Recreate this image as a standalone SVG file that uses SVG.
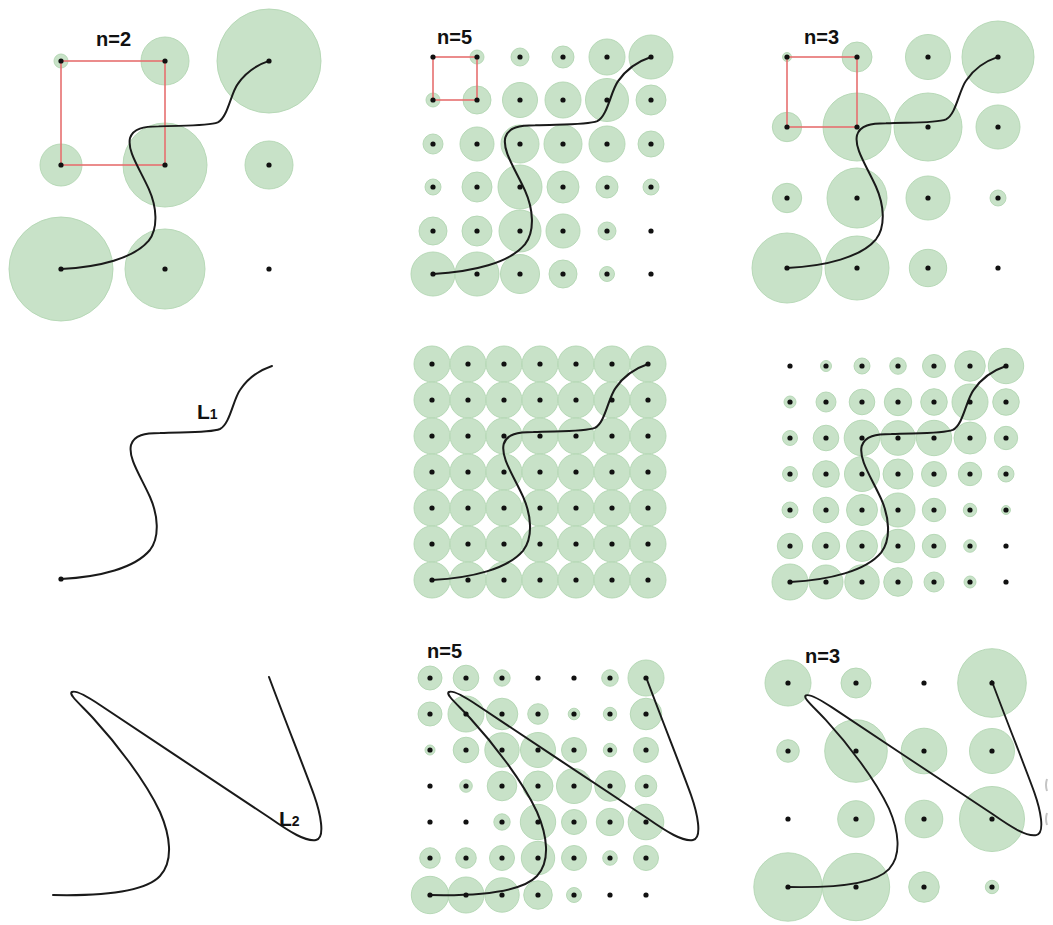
<svg xmlns="http://www.w3.org/2000/svg" xmlns:xlink="http://www.w3.org/1999/xlink" width="1053" height="925" viewBox="0 0 1053 925">
<style>
.bg{fill:#ffffff}
.g circle{fill:#c8e2c8;stroke:#b2d6b2;stroke-width:0.9}
.d circle{fill:#111111}
.sq{fill:none;stroke:#e67070;stroke-width:1.6}
.cv{fill:none;stroke:#1a1a1a;stroke-width:2;stroke-linecap:round;stroke-linejoin:round}
.lbl{font-family:"Liberation Sans",Arial,sans-serif;font-weight:bold;font-size:20px;fill:#111111}
.big{font-size:21px}
.sub{font-size:14px}
.art{fill:none;stroke:#c4c4c4;stroke-width:2}
</style>
<defs>
<path id="L1" class="cv" d="M61,579 C100,577 135,568 150,550 C160,537 158,515 150,497 C140,475 128,458 131,445 C134,435 145,433 160,433 C185,432 210,433 220,429 C230,424 233,400 240,390 C248,378 260,370 272,366"/>
<path id="L2" class="cv" d="M53,895 C100,896 145,892 160,876 C174,861 170,835 160,812 C145,780 115,742 93,718 C80,704 68,694 72,692 C76,690 88,697 100,705 C150,738 230,792 270,818 C290,832 306,842 316,840 C326,838 320,812 314,795 C305,770 285,720 269,677"/>
</defs>
<rect class="bg" x="0" y="0" width="1053" height="925"/>

<g id="panel-n2-L1">
<g class="g">
<circle cx="61" cy="61" r="7"/><circle cx="165" cy="61" r="24"/><circle cx="269" cy="61" r="52"/>
<circle cx="61" cy="165" r="21"/><circle cx="165" cy="165" r="42"/><circle cx="269" cy="165" r="24"/>
<circle cx="61" cy="269" r="52"/><circle cx="165" cy="269" r="40"/>
</g>
<rect class="sq" x="61" y="61" width="104" height="104"/>
<use xlink:href="#L1" transform="translate(61,269) scale(0.986,0.977) translate(-61,-579)"/>
<g class="d">
<circle cx="61" cy="61" r="2.6"/><circle cx="165" cy="61" r="2.6"/><circle cx="269" cy="61" r="2.6"/>
<circle cx="61" cy="165" r="2.6"/><circle cx="165" cy="165" r="2.6"/><circle cx="269" cy="165" r="2.6"/>
<circle cx="61" cy="269" r="2.6"/><circle cx="165" cy="269" r="2.6"/><circle cx="269" cy="269" r="2.6"/>
</g>
<text class="lbl" x="96" y="46">n=2</text>
</g>

<g id="panel-n5-L1">
<g class="g">
<circle cx="477" cy="57" r="7"/><circle cx="520" cy="57" r="9"/><circle cx="563" cy="57" r="11"/><circle cx="607" cy="57" r="18"/><circle cx="651" cy="57" r="22"/>
<circle cx="433" cy="100" r="7"/><circle cx="477" cy="100" r="14"/><circle cx="520" cy="100" r="17.5"/><circle cx="563" cy="100" r="18"/><circle cx="607" cy="100" r="21.5"/><circle cx="651" cy="100" r="15"/>
<circle cx="433" cy="144" r="10"/><circle cx="477" cy="144" r="17"/><circle cx="520" cy="144" r="19"/><circle cx="563" cy="144" r="19"/><circle cx="607" cy="144" r="18"/><circle cx="651" cy="144" r="13"/>
<circle cx="433" cy="187" r="8"/><circle cx="477" cy="187" r="15"/><circle cx="520" cy="187" r="22"/><circle cx="563" cy="187" r="16"/><circle cx="607" cy="187" r="11"/><circle cx="651" cy="187" r="8"/>
<circle cx="433" cy="231" r="14"/><circle cx="477" cy="231" r="15"/><circle cx="520" cy="231" r="21"/><circle cx="563" cy="231" r="17"/><circle cx="607" cy="231" r="9"/>
<circle cx="433" cy="274" r="22"/><circle cx="477" cy="274" r="22"/><circle cx="520" cy="274" r="19.5"/><circle cx="563" cy="274" r="14"/><circle cx="607" cy="274" r="7.5"/>
</g>
<rect class="sq" x="433" y="57" width="44" height="43"/>
<use xlink:href="#L1" transform="translate(433,274) scale(1.033,1.019) translate(-61,-579)"/>
<g class="d">
<circle cx="433" cy="57" r="2.6"/><circle cx="477" cy="57" r="2.6"/><circle cx="520" cy="57" r="2.6"/><circle cx="563" cy="57" r="2.6"/><circle cx="607" cy="57" r="2.6"/><circle cx="651" cy="57" r="2.6"/>
<circle cx="433" cy="100" r="2.6"/><circle cx="477" cy="100" r="2.6"/><circle cx="520" cy="100" r="2.6"/><circle cx="563" cy="100" r="2.6"/><circle cx="607" cy="100" r="2.6"/><circle cx="651" cy="100" r="2.6"/>
<circle cx="433" cy="144" r="2.6"/><circle cx="477" cy="144" r="2.6"/><circle cx="520" cy="144" r="2.6"/><circle cx="563" cy="144" r="2.6"/><circle cx="607" cy="144" r="2.6"/><circle cx="651" cy="144" r="2.6"/>
<circle cx="433" cy="187" r="2.6"/><circle cx="477" cy="187" r="2.6"/><circle cx="520" cy="187" r="2.6"/><circle cx="563" cy="187" r="2.6"/><circle cx="607" cy="187" r="2.6"/><circle cx="651" cy="187" r="2.6"/>
<circle cx="433" cy="231" r="2.6"/><circle cx="477" cy="231" r="2.6"/><circle cx="520" cy="231" r="2.6"/><circle cx="563" cy="231" r="2.6"/><circle cx="607" cy="231" r="2.6"/><circle cx="651" cy="231" r="2.6"/>
<circle cx="433" cy="274" r="2.6"/><circle cx="477" cy="274" r="2.6"/><circle cx="520" cy="274" r="2.6"/><circle cx="563" cy="274" r="2.6"/><circle cx="607" cy="274" r="2.6"/><circle cx="651" cy="274" r="2.6"/>
</g>
<text class="lbl" x="437" y="44">n=5</text>
</g>

<g id="panel-n3-L1">
<g class="g">
<circle cx="787" cy="57" r="4.5"/><circle cx="857" cy="57" r="15"/><circle cx="928" cy="57" r="22.5"/><circle cx="998" cy="57" r="36"/>
<circle cx="787" cy="127" r="14.7"/><circle cx="857" cy="127" r="34"/><circle cx="928" cy="127" r="34"/><circle cx="998" cy="127" r="22"/>
<circle cx="787" cy="198" r="14.7"/><circle cx="857" cy="198" r="30"/><circle cx="928" cy="198" r="22"/><circle cx="998" cy="198" r="8"/>
<circle cx="787" cy="268" r="35"/><circle cx="857" cy="268" r="32"/><circle cx="928" cy="268" r="18.7"/>
</g>
<rect class="sq" x="787" y="57" width="70" height="70"/>
<use xlink:href="#L1" transform="translate(787,268) scale(1,0.991) translate(-61,-579)"/>
<g class="d">
<circle cx="787" cy="57" r="2.6"/><circle cx="857" cy="57" r="2.6"/><circle cx="928" cy="57" r="2.6"/><circle cx="998" cy="57" r="2.6"/>
<circle cx="787" cy="127" r="2.6"/><circle cx="857" cy="127" r="2.6"/><circle cx="928" cy="127" r="2.6"/><circle cx="998" cy="127" r="2.6"/>
<circle cx="787" cy="198" r="2.6"/><circle cx="857" cy="198" r="2.6"/><circle cx="928" cy="198" r="2.6"/><circle cx="998" cy="198" r="2.6"/>
<circle cx="787" cy="268" r="2.6"/><circle cx="857" cy="268" r="2.6"/><circle cx="928" cy="268" r="2.6"/><circle cx="998" cy="268" r="2.6"/>
</g>
<text class="lbl" x="804" y="44">n=3</text>
</g>

<g id="panel-L1">
<use xlink:href="#L1"/>
<g class="d"><circle cx="61" cy="579" r="2.6"/></g>
<text class="lbl" x="197" y="419"><tspan class="big">L</tspan><tspan class="sub">1</tspan></text>
</g>

<g id="panel-uniform-L1">
<g class="g">
<circle cx="432" cy="364" r="18"/><circle cx="468" cy="364" r="18"/><circle cx="504" cy="364" r="18"/><circle cx="540" cy="364" r="18"/><circle cx="576" cy="364" r="18"/><circle cx="612" cy="364" r="18"/><circle cx="648" cy="364" r="18"/>
<circle cx="432" cy="400" r="18"/><circle cx="468" cy="400" r="18"/><circle cx="504" cy="400" r="18"/><circle cx="540" cy="400" r="18"/><circle cx="576" cy="400" r="18"/><circle cx="612" cy="400" r="18"/><circle cx="648" cy="400" r="18"/>
<circle cx="432" cy="436" r="18"/><circle cx="468" cy="436" r="18"/><circle cx="504" cy="436" r="18"/><circle cx="540" cy="436" r="18"/><circle cx="576" cy="436" r="18"/><circle cx="612" cy="436" r="18"/><circle cx="648" cy="436" r="18"/>
<circle cx="432" cy="472" r="18"/><circle cx="468" cy="472" r="18"/><circle cx="504" cy="472" r="18"/><circle cx="540" cy="472" r="18"/><circle cx="576" cy="472" r="18"/><circle cx="612" cy="472" r="18"/><circle cx="648" cy="472" r="18"/>
<circle cx="432" cy="508" r="18"/><circle cx="468" cy="508" r="18"/><circle cx="504" cy="508" r="18"/><circle cx="540" cy="508" r="18"/><circle cx="576" cy="508" r="18"/><circle cx="612" cy="508" r="18"/><circle cx="648" cy="508" r="18"/>
<circle cx="432" cy="544" r="18"/><circle cx="468" cy="544" r="18"/><circle cx="504" cy="544" r="18"/><circle cx="540" cy="544" r="18"/><circle cx="576" cy="544" r="18"/><circle cx="612" cy="544" r="18"/><circle cx="648" cy="544" r="18"/>
<circle cx="432" cy="580" r="18"/><circle cx="468" cy="580" r="18"/><circle cx="504" cy="580" r="18"/><circle cx="540" cy="580" r="18"/><circle cx="576" cy="580" r="18"/><circle cx="612" cy="580" r="18"/><circle cx="648" cy="580" r="18"/>
</g>
<use xlink:href="#L1" transform="translate(432,580) scale(1.024,1.014) translate(-61,-579)"/>
<g class="d">
<circle cx="432" cy="364" r="2.6"/><circle cx="468" cy="364" r="2.6"/><circle cx="504" cy="364" r="2.6"/><circle cx="540" cy="364" r="2.6"/><circle cx="576" cy="364" r="2.6"/><circle cx="612" cy="364" r="2.6"/><circle cx="648" cy="364" r="2.6"/>
<circle cx="432" cy="400" r="2.6"/><circle cx="468" cy="400" r="2.6"/><circle cx="504" cy="400" r="2.6"/><circle cx="540" cy="400" r="2.6"/><circle cx="576" cy="400" r="2.6"/><circle cx="612" cy="400" r="2.6"/><circle cx="648" cy="400" r="2.6"/>
<circle cx="432" cy="436" r="2.6"/><circle cx="468" cy="436" r="2.6"/><circle cx="504" cy="436" r="2.6"/><circle cx="540" cy="436" r="2.6"/><circle cx="576" cy="436" r="2.6"/><circle cx="612" cy="436" r="2.6"/><circle cx="648" cy="436" r="2.6"/>
<circle cx="432" cy="472" r="2.6"/><circle cx="468" cy="472" r="2.6"/><circle cx="504" cy="472" r="2.6"/><circle cx="540" cy="472" r="2.6"/><circle cx="576" cy="472" r="2.6"/><circle cx="612" cy="472" r="2.6"/><circle cx="648" cy="472" r="2.6"/>
<circle cx="432" cy="508" r="2.6"/><circle cx="468" cy="508" r="2.6"/><circle cx="504" cy="508" r="2.6"/><circle cx="540" cy="508" r="2.6"/><circle cx="576" cy="508" r="2.6"/><circle cx="612" cy="508" r="2.6"/><circle cx="648" cy="508" r="2.6"/>
<circle cx="432" cy="544" r="2.6"/><circle cx="468" cy="544" r="2.6"/><circle cx="504" cy="544" r="2.6"/><circle cx="540" cy="544" r="2.6"/><circle cx="576" cy="544" r="2.6"/><circle cx="612" cy="544" r="2.6"/><circle cx="648" cy="544" r="2.6"/>
<circle cx="432" cy="580" r="2.6"/><circle cx="468" cy="580" r="2.6"/><circle cx="504" cy="580" r="2.6"/><circle cx="540" cy="580" r="2.6"/><circle cx="576" cy="580" r="2.6"/><circle cx="612" cy="580" r="2.6"/><circle cx="648" cy="580" r="2.6"/>
</g>
</g>

<g id="panel-varied-L1">
<g class="g">
<circle cx="826" cy="366" r="5.5"/><circle cx="862" cy="366" r="8"/><circle cx="898" cy="366" r="8.3"/><circle cx="934" cy="366" r="11.5"/><circle cx="970" cy="366" r="15.3"/><circle cx="1006" cy="366" r="17.7"/>
<circle cx="790" cy="402" r="6"/><circle cx="826" cy="402" r="10"/><circle cx="862" cy="402" r="12.8"/><circle cx="898" cy="402" r="13.7"/><circle cx="934" cy="402" r="13.3"/><circle cx="970" cy="402" r="18"/><circle cx="1006" cy="402" r="13.3"/>
<circle cx="790" cy="438" r="7.5"/><circle cx="826" cy="438" r="12.8"/><circle cx="862" cy="438" r="17.8"/><circle cx="898" cy="438" r="17.3"/><circle cx="934" cy="438" r="17.7"/><circle cx="970" cy="438" r="16"/><circle cx="1006" cy="438" r="11.7"/>
<circle cx="790" cy="474" r="7.5"/><circle cx="826" cy="474" r="13.3"/><circle cx="862" cy="474" r="17.5"/><circle cx="898" cy="474" r="15"/><circle cx="934" cy="474" r="12.5"/><circle cx="970" cy="474" r="11.7"/><circle cx="1006" cy="474" r="8"/>
<circle cx="790" cy="510" r="8"/><circle cx="826" cy="510" r="12.8"/><circle cx="862" cy="510" r="15.5"/><circle cx="898" cy="510" r="17"/><circle cx="934" cy="510" r="11.7"/><circle cx="970" cy="510" r="6.7"/><circle cx="1006" cy="510" r="4.5"/>
<circle cx="790" cy="546" r="12.7"/><circle cx="826" cy="546" r="13.7"/><circle cx="862" cy="546" r="15.5"/><circle cx="898" cy="546" r="16.7"/><circle cx="934" cy="546" r="11.7"/><circle cx="970" cy="546" r="6.3"/>
<circle cx="790" cy="582" r="18"/><circle cx="826" cy="582" r="17"/><circle cx="862" cy="582" r="17.2"/><circle cx="898" cy="582" r="14.3"/><circle cx="934" cy="582" r="10"/><circle cx="970" cy="582" r="6"/>
</g>
<use xlink:href="#L1" transform="translate(790,582) scale(1.024,1.014) translate(-61,-579)"/>
<g class="d">
<circle cx="790" cy="366" r="2.6"/><circle cx="826" cy="366" r="2.6"/><circle cx="862" cy="366" r="2.6"/><circle cx="898" cy="366" r="2.6"/><circle cx="934" cy="366" r="2.6"/><circle cx="970" cy="366" r="2.6"/><circle cx="1006" cy="366" r="2.6"/>
<circle cx="790" cy="402" r="2.6"/><circle cx="826" cy="402" r="2.6"/><circle cx="862" cy="402" r="2.6"/><circle cx="898" cy="402" r="2.6"/><circle cx="934" cy="402" r="2.6"/><circle cx="970" cy="402" r="2.6"/><circle cx="1006" cy="402" r="2.6"/>
<circle cx="790" cy="438" r="2.6"/><circle cx="826" cy="438" r="2.6"/><circle cx="862" cy="438" r="2.6"/><circle cx="898" cy="438" r="2.6"/><circle cx="934" cy="438" r="2.6"/><circle cx="970" cy="438" r="2.6"/><circle cx="1006" cy="438" r="2.6"/>
<circle cx="790" cy="474" r="2.6"/><circle cx="826" cy="474" r="2.6"/><circle cx="862" cy="474" r="2.6"/><circle cx="898" cy="474" r="2.6"/><circle cx="934" cy="474" r="2.6"/><circle cx="970" cy="474" r="2.6"/><circle cx="1006" cy="474" r="2.6"/>
<circle cx="790" cy="510" r="2.6"/><circle cx="826" cy="510" r="2.6"/><circle cx="862" cy="510" r="2.6"/><circle cx="898" cy="510" r="2.6"/><circle cx="934" cy="510" r="2.6"/><circle cx="970" cy="510" r="2.6"/><circle cx="1006" cy="510" r="2.6"/>
<circle cx="790" cy="546" r="2.6"/><circle cx="826" cy="546" r="2.6"/><circle cx="862" cy="546" r="2.6"/><circle cx="898" cy="546" r="2.6"/><circle cx="934" cy="546" r="2.6"/><circle cx="970" cy="546" r="2.6"/><circle cx="1006" cy="546" r="2.6"/>
<circle cx="790" cy="582" r="2.6"/><circle cx="826" cy="582" r="2.6"/><circle cx="862" cy="582" r="2.6"/><circle cx="898" cy="582" r="2.6"/><circle cx="934" cy="582" r="2.6"/><circle cx="970" cy="582" r="2.6"/><circle cx="1006" cy="582" r="2.6"/>
</g>
</g>

<g id="panel-L2">
<use xlink:href="#L2"/>
<text class="lbl" x="279" y="826"><tspan class="big">L</tspan><tspan class="sub">2</tspan></text>
</g>

<g id="panel-n5-L2">
<g class="g">
<circle cx="430" cy="678" r="12"/><circle cx="466" cy="678" r="12.8"/><circle cx="502" cy="678" r="8.2"/><circle cx="610" cy="678" r="8.3"/><circle cx="646" cy="678" r="18"/>
<circle cx="430" cy="714" r="12"/><circle cx="466" cy="714" r="18"/><circle cx="502" cy="714" r="15.8"/><circle cx="538" cy="714" r="10.3"/><circle cx="574" cy="714" r="5.8"/><circle cx="610" cy="714" r="6.7"/><circle cx="646" cy="714" r="15.8"/>
<circle cx="430" cy="750" r="5"/><circle cx="466" cy="750" r="12.8"/><circle cx="502" cy="750" r="17.2"/><circle cx="538" cy="750" r="17.5"/><circle cx="574" cy="750" r="12.5"/><circle cx="610" cy="750" r="6.7"/><circle cx="646" cy="750" r="12.5"/>
<circle cx="466" cy="786" r="6.3"/><circle cx="502" cy="786" r="14.8"/><circle cx="538" cy="786" r="15"/><circle cx="574" cy="786" r="17.5"/><circle cx="610" cy="786" r="15.3"/><circle cx="646" cy="786" r="10.8"/>
<circle cx="502" cy="822" r="8.2"/><circle cx="538" cy="822" r="17.7"/><circle cx="574" cy="822" r="12.5"/><circle cx="610" cy="822" r="13.7"/><circle cx="646" cy="822" r="17.8"/>
<circle cx="430" cy="858" r="10.3"/><circle cx="466" cy="858" r="10.3"/><circle cx="502" cy="858" r="12.5"/><circle cx="538" cy="858" r="16.7"/><circle cx="574" cy="858" r="12.5"/><circle cx="610" cy="858" r="7.3"/><circle cx="646" cy="858" r="12.5"/>
<circle cx="430" cy="895" r="18.7"/><circle cx="466" cy="895" r="18"/><circle cx="502" cy="895" r="17.2"/><circle cx="538" cy="895" r="14.3"/><circle cx="574" cy="895" r="7.5"/>
</g>
<use xlink:href="#L2" transform="translate(377,0)"/>
<g class="d">
<circle cx="430" cy="678" r="2.6"/><circle cx="466" cy="678" r="2.6"/><circle cx="502" cy="678" r="2.6"/><circle cx="538" cy="678" r="2.6"/><circle cx="574" cy="678" r="2.6"/><circle cx="610" cy="678" r="2.6"/><circle cx="646" cy="678" r="2.6"/>
<circle cx="430" cy="714" r="2.6"/><circle cx="466" cy="714" r="2.6"/><circle cx="502" cy="714" r="2.6"/><circle cx="538" cy="714" r="2.6"/><circle cx="574" cy="714" r="2.6"/><circle cx="610" cy="714" r="2.6"/><circle cx="646" cy="714" r="2.6"/>
<circle cx="430" cy="750" r="2.6"/><circle cx="466" cy="750" r="2.6"/><circle cx="502" cy="750" r="2.6"/><circle cx="538" cy="750" r="2.6"/><circle cx="574" cy="750" r="2.6"/><circle cx="610" cy="750" r="2.6"/><circle cx="646" cy="750" r="2.6"/>
<circle cx="430" cy="786" r="2.6"/><circle cx="466" cy="786" r="2.6"/><circle cx="502" cy="786" r="2.6"/><circle cx="538" cy="786" r="2.6"/><circle cx="574" cy="786" r="2.6"/><circle cx="610" cy="786" r="2.6"/><circle cx="646" cy="786" r="2.6"/>
<circle cx="430" cy="822" r="2.6"/><circle cx="466" cy="822" r="2.6"/><circle cx="502" cy="822" r="2.6"/><circle cx="538" cy="822" r="2.6"/><circle cx="574" cy="822" r="2.6"/><circle cx="610" cy="822" r="2.6"/><circle cx="646" cy="822" r="2.6"/>
<circle cx="430" cy="858" r="2.6"/><circle cx="466" cy="858" r="2.6"/><circle cx="502" cy="858" r="2.6"/><circle cx="538" cy="858" r="2.6"/><circle cx="574" cy="858" r="2.6"/><circle cx="610" cy="858" r="2.6"/><circle cx="646" cy="858" r="2.6"/>
<circle cx="430" cy="895" r="2.6"/><circle cx="466" cy="895" r="2.6"/><circle cx="502" cy="895" r="2.6"/><circle cx="538" cy="895" r="2.6"/><circle cx="574" cy="895" r="2.6"/><circle cx="610" cy="895" r="2.6"/><circle cx="646" cy="895" r="2.6"/>
</g>
<text class="lbl" x="427" y="658">n=5</text>
</g>

<g id="panel-n3-L2">
<g class="g">
<circle cx="788" cy="683" r="23"/><circle cx="856" cy="683" r="15"/><circle cx="992" cy="683" r="34.3"/>
<circle cx="788" cy="751" r="11.3"/><circle cx="856" cy="751" r="31.3"/><circle cx="924" cy="751" r="22.8"/><circle cx="992" cy="751" r="22.5"/>
<circle cx="856" cy="819" r="18.3"/><circle cx="924" cy="819" r="18.8"/><circle cx="992" cy="819" r="32.5"/>
<circle cx="788" cy="887" r="34.2"/><circle cx="856" cy="887" r="33.7"/><circle cx="924" cy="887" r="15.3"/><circle cx="992" cy="887" r="6.7"/>
</g>
<use xlink:href="#L2" transform="translate(788,887) scale(0.944) translate(-53,-895)"/>
<g class="d">
<circle cx="788" cy="683" r="2.6"/><circle cx="856" cy="683" r="2.6"/><circle cx="924" cy="683" r="2.6"/><circle cx="992" cy="683" r="2.6"/>
<circle cx="788" cy="751" r="2.6"/><circle cx="856" cy="751" r="2.6"/><circle cx="924" cy="751" r="2.6"/><circle cx="992" cy="751" r="2.6"/>
<circle cx="788" cy="819" r="2.6"/><circle cx="856" cy="819" r="2.6"/><circle cx="924" cy="819" r="2.6"/><circle cx="992" cy="819" r="2.6"/>
<circle cx="788" cy="887" r="2.6"/><circle cx="856" cy="887" r="2.6"/><circle cx="924" cy="887" r="2.6"/><circle cx="992" cy="887" r="2.6"/>
</g>
<text class="lbl" x="805" y="663">n=3</text>
<path class="art" d="M1047,779 Q1045,785 1047,791 M1047,813 Q1045,819 1047,825"/>
</g>
</svg>
